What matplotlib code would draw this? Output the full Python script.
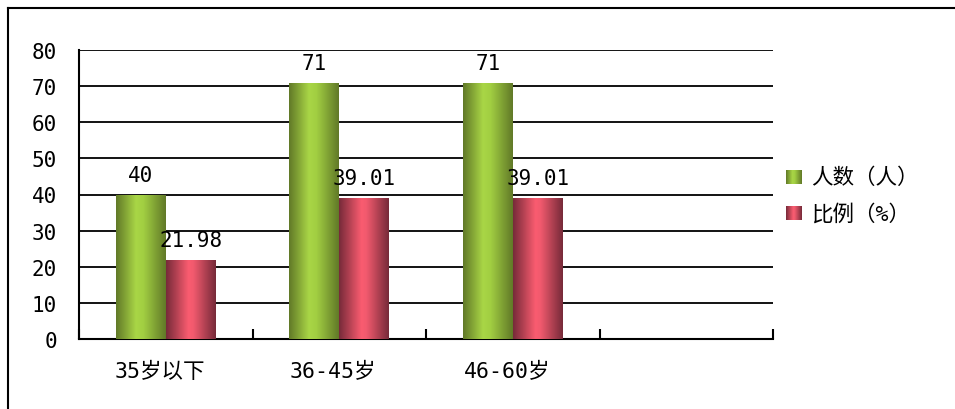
import numpy as np
import matplotlib.pyplot as plt
from matplotlib.colors import LinearSegmentedColormap
from matplotlib.lines import Line2D
from matplotlib.transforms import ScaledTranslation

plt.rcParams['font.family'] = ['DejaVu Sans Mono', 'Noto Sans CJK SC']

categories = ['35岁以下', '36-45岁', '46-60岁', '']
people = [40, 71, 71]
ratio = [21.98, 39.01, 39.01]
series_names = ['人数（人）', '比例（%）']

green = LinearSegmentedColormap.from_list(
    'g', [(0, '#627A28'), (0.4, '#A9D646'), (0.55, '#A2CF42'), (1, '#627A28')])
red = LinearSegmentedColormap.from_list(
    'r', [(0, '#782B3A'), (0.45, '#FA5C70'), (0.55, '#F25A6E'), (1, '#782B3A')])
grad = np.linspace(0, 1, 64).reshape(1, -1)

W, H = 955, 410
fig = plt.figure(figsize=(W / 100, H / 100), dpi=100)
ax = fig.add_axes([79 / W, (H - 340) / H, (773 - 79) / W, (340 - 51) / H])

x = np.arange(len(people)) + 0.5
bw = 0.288


def gradient_bars(xs, vals, cmap):
    bars = ax.bar(xs, vals, bw, color='none', edgecolor='none', zorder=3)
    for b in bars:
        im = ax.imshow(grad, cmap=cmap, aspect='auto', zorder=3,
                       extent=[b.get_x(), b.get_x() + b.get_width(), 0, b.get_height()])
        im.set_clip_path(b)
    for b, v in zip(bars, vals):
        ax.annotate(f'{v:g}', (b.get_x() + b.get_width() / 2, v),
                    xytext=(0, 7), textcoords='offset points',
                    ha='center', va='bottom', fontsize=15, zorder=4)


gradient_bars(x - bw / 2, people, green)
gradient_bars(x + bw / 2, ratio, red)

ax.set_xlim(0, 4)
ax.set_ylim(0, 80)
ax.set_yticks(range(0, 81, 10))
for v in range(10, 81, 10):
    ax.axhline(v, color='black', lw=1.3, zorder=1)

ax.set_xticks(range(5))
ax.set_xticklabels([])
ax.set_xticks(np.arange(4) + 0.5, minor=True)
ax.set_xticklabels(categories, minor=True, fontsize=15.5)
ax.tick_params(axis='x', which='major', direction='in', length=7, width=1.5)
ax.tick_params(axis='x', which='minor', length=0, pad=16)
ax.tick_params(axis='y', length=0, pad=16, labelsize=15)
# category labels sit slightly left of the slot centres
shift = ScaledTranslation(-6 / 100, 0, fig.dpi_scale_trans)
for lbl in ax.get_xticklabels(minor=True):
    lbl.set_transform(lbl.get_transform() + shift)

for s in ['top', 'right']:
    ax.spines[s].set_visible(False)
for s in ['left', 'bottom']:
    ax.spines[s].set_linewidth(1.5)

# legend swatches with the same gradients
for i, (name, cmap) in enumerate(zip(series_names, [green, red])):
    yc = 178 + i * 36
    sw = fig.add_axes([786 / W, 1 - (yc + 7) / H, 16 / W, 14 / H])
    sw.imshow(grad, cmap=cmap, aspect='auto')
    sw.axis('off')
    fig.text(811 / W, 1 - yc / H, name, fontsize=15.5, va='center', ha='left')

# chart frame
fig.add_artist(Line2D([8 / W, 1], [1 - 9 / H, 1 - 9 / H], color='black', lw=1.5))
fig.add_artist(Line2D([8 / W, 8 / W], [0, 1 - 9 / H], color='black', lw=1.5))

fig.savefig('out.png', dpi=100)
